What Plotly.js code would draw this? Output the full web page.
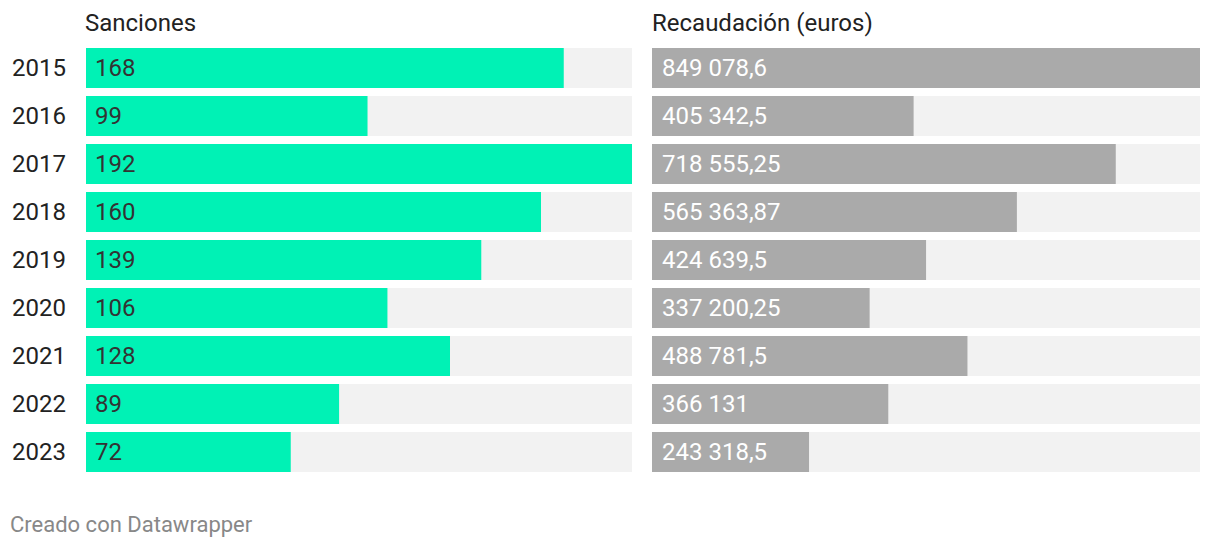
<!DOCTYPE html>
<html>
<head>
<meta charset="utf-8">
<script src="https://cdn.plot.ly/plotly-3.0.1.min.js"></script>
<style>
  html, body { margin: 0; padding: 0; background: #fff; }
  #chart { width: 1220px; height: 548px; }
</style>
</head>
<body>
<div id="chart"></div>
<script>
// datos
let years = ['2015', '2016', '2017', '2018', '2019', '2020', '2021', '2022', '2023'];
let sanciones = [168, 99, 192, 160, 139, 106, 128, 89, 72];
let recaudacion = [849078.6, 405342.5, 718555.25, 565363.87, 424639.5, 337200.25, 488781.5, 366131, 243318.5];

// 849078.6 -> "849 078,6"
let fmt = function(v){
	let parts = String(v).split('.');
	let ent = parts[0].replace(/\B(?=(\d{3})+(?!\d))/g, ' ');
	return parts.length > 1 ? ent + ',' + parts[1] : ent;
};

let idx = years.map((y, i) => i);
let maxS = Math.max.apply(null, sanciones);
let maxR = Math.max.apply(null, recaudacion);
let W = 1220;

let font = 'Roboto, "Open Sans", sans-serif';

let bgS = {
	type: 'bar', orientation: 'h', x: years.map(() => maxS), y: idx,
	xaxis: 'x', yaxis: 'y', marker: { color: '#f2f2f2' }, hoverinfo: 'skip'
};
let barS = {
	type: 'bar', orientation: 'h', x: sanciones, y: idx,
	xaxis: 'x', yaxis: 'y', marker: { color: '#00f2b5' }
};
let bgR = {
	type: 'bar', orientation: 'h', x: years.map(() => maxR), y: idx,
	xaxis: 'x2', yaxis: 'y2', marker: { color: '#f2f2f2' }, hoverinfo: 'skip'
};
let barR = {
	type: 'bar', orientation: 'h', x: recaudacion, y: idx,
	xaxis: 'x2', yaxis: 'y2', marker: { color: '#aaaaaa' }
};

let annotations = [];
idx.forEach(function(i){
	annotations.push({
		xref: 'x', yref: 'y', x: 0, y: i, text: fmt(sanciones[i]),
		xanchor: 'left', yanchor: 'middle', xshift: 7, showarrow: false,
		font: { family: font, size: 24, color: '#333333' }
	});
	annotations.push({
		xref: 'x2', yref: 'y2', x: 0, y: i, text: fmt(recaudacion[i]),
		xanchor: 'left', yanchor: 'middle', xshift: 8, showarrow: false,
		font: { family: font, size: 24, color: '#ffffff' }
	});
});
annotations.push({
	xref: 'paper', yref: 'paper', x: 86 / W, y: 1, yshift: 25, xshift: -3,
	xanchor: 'left', yanchor: 'middle', text: 'Sanciones', showarrow: false,
	font: { family: font, size: 24, color: '#222222' }
});
annotations.push({
	xref: 'paper', yref: 'paper', x: 652 / W, y: 1, yshift: 25, xshift: -2,
	xanchor: 'left', yanchor: 'middle', text: 'Recaudación (euros)', showarrow: false,
	font: { family: font, size: 24, color: '#222222' }
});
annotations.push({
	xref: 'paper', yref: 'paper', x: 10 / W, y: 0, yshift: -52, xshift: -2,
	xanchor: 'left', yanchor: 'middle', text: 'Creado con Datawrapper', showarrow: false,
	font: { family: font, size: 22, color: '#888888' }
});

let yax = {
	range: [8.41667, -0.41667], showgrid: false, zeroline: false,
	showline: false, ticks: '', fixedrange: true,
	tickmode: 'array', tickvals: idx, ticktext: years
};

let layout = {
	width: 1220, height: 548,
	margin: { l: 0, r: 0, t: 48, b: 76 },
	paper_bgcolor: '#ffffff', plot_bgcolor: '#ffffff',
	barmode: 'overlay', bargap: 0.16667,
	showlegend: false,
	font: { family: font },
	xaxis: { domain: [86 / W, 632 / W], range: [0, maxS], visible: false, fixedrange: true },
	xaxis2: { domain: [652 / W, 1200 / W], range: [0, maxR], visible: false, fixedrange: true },
	yaxis: Object.assign({}, yax, {
		anchor: 'x', showticklabels: true, ticklabelstandoff: 19,
		tickfont: { family: font, size: 24, color: '#222222' }
	}),
	yaxis2: Object.assign({}, yax, { anchor: 'x2', showticklabels: false }),
	annotations: annotations
};

Plotly.newPlot('chart', [bgS, barS, bgR, barR], layout, { displayModeBar: false, staticPlot: true });
</script>
</body>
</html>
